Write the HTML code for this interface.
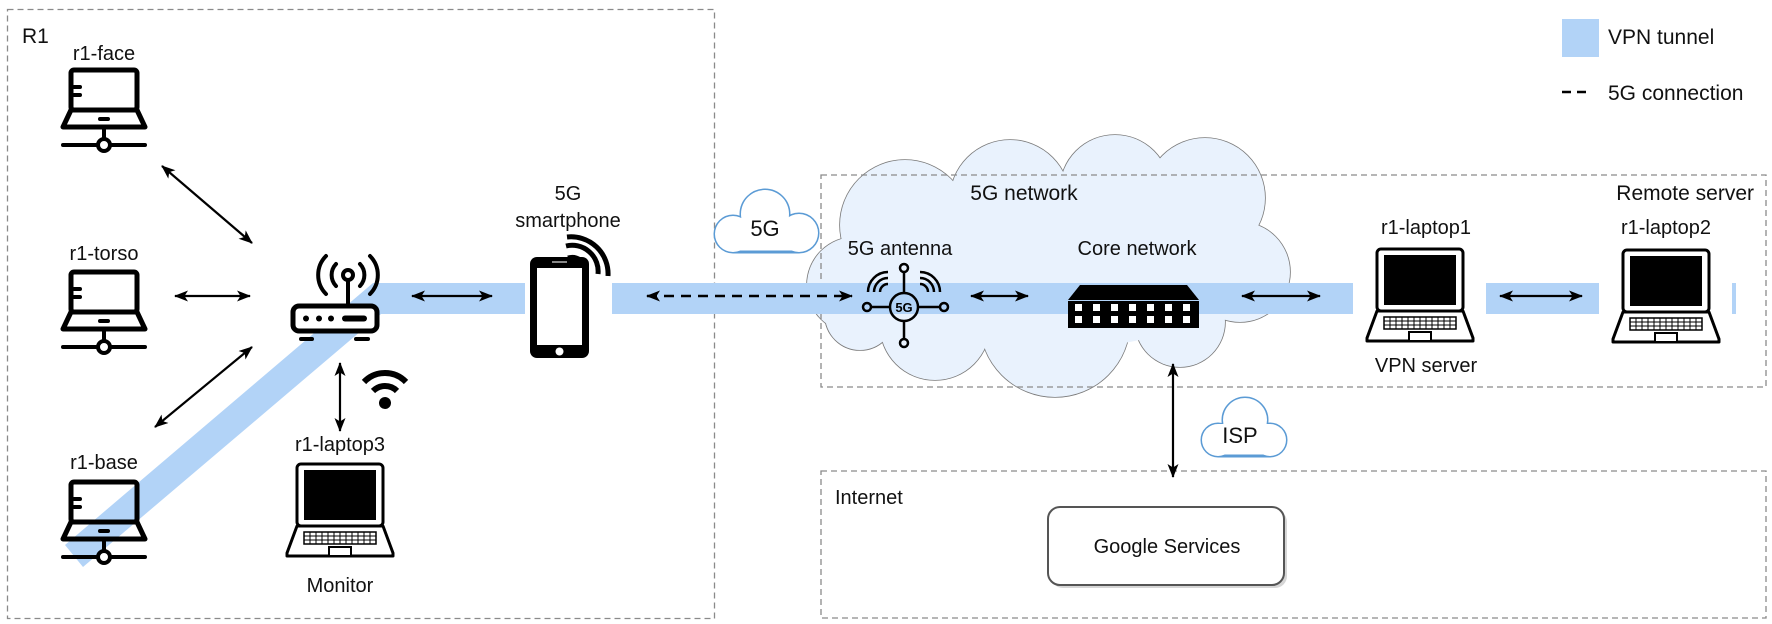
<!DOCTYPE html>
<html><head><meta charset="utf-8"><style>
html,body{margin:0;padding:0;background:#fff;}
svg{display:block;font-family:"Liberation Sans",Arial,sans-serif;}
</style></head><body>
<svg width="1772" height="624" viewBox="0 0 1772 624" xmlns="http://www.w3.org/2000/svg">
<defs>
<marker id="ah" viewBox="0 0 14 11" refX="13" refY="5.5" markerWidth="14" markerHeight="11" markerUnits="userSpaceOnUse" orient="auto-start-reverse"><path d="M0,0 L14,5.5 L0,11 L3.5,5.5 Z" fill="#000"/></marker>
<g id="rlap" fill="none" stroke="#000" stroke-linecap="round" stroke-linejoin="round">
<rect x="-33" y="2" width="66" height="40" rx="3" stroke-width="5"/>
<line x1="-30" y1="19" x2="-24" y2="19" stroke-width="4"/>
<line x1="-30" y1="27" x2="-24" y2="27" stroke-width="4"/>
<path d="M-33,42 L33,42 L41,59 L-41,59 Z" stroke-width="5"/>
<line x1="-4" y1="51" x2="4" y2="51" stroke-width="4"/>
<line x1="0" y1="59" x2="0" y2="72" stroke-width="4"/>
<line x1="-41" y1="77" x2="41" y2="77" stroke-width="4"/>
<circle cx="0" cy="77" r="6" fill="#fff" stroke-width="4"/>
</g>
<g id="blap">
<rect x="-43" y="1" width="86" height="62" rx="4" fill="#fff" stroke="#000" stroke-width="3"/>
<rect x="-36" y="7" width="72" height="50" fill="#000"/>
<path d="M-43,63 L43,63 L53,90 L53,93 L-53,93 L-53,90 Z" fill="#fff" stroke="#000" stroke-width="3" stroke-linejoin="round"/>
<rect x="-36" y="69" width="72" height="12" fill="#fff" stroke="#000" stroke-width="1.5"/>
<path d="M-36,73 H36 M-36,77 H36 M-30,69 V81 M-24,69 V81 M-18,69 V81 M-12,69 V81 M-6,69 V81 M0,69 V81 M6,69 V81 M12,69 V81 M18,69 V81 M24,69 V81 M30,69 V81" stroke="#000" stroke-width="1"/>
<rect x="-11" y="84" width="22" height="9" fill="#fff" stroke="#000" stroke-width="2"/>
</g>
</defs>

<g fill="none" stroke="#8a8a8a" stroke-width="1.3" stroke-dasharray="6 4">
<rect x="7.5" y="9.5" width="707" height="609"/>
<rect x="821" y="471" width="945" height="147"/>
</g>

<g stroke="#7a7a7a" stroke-width="1.6" fill="#e9f2fd">
<circle cx="855" cy="285" r="48"/><circle cx="905" cy="225" r="65"/><circle cx="1010" cy="200" r="60"/>
<circle cx="1115" cy="190" r="55"/><circle cx="1205" cy="198" r="60"/><circle cx="1240" cy="272" r="50"/>
<circle cx="1180" cy="322" r="45"/><circle cx="1055" cy="322" r="75"/><circle cx="935" cy="325" r="55"/>
<circle cx="860" cy="315" r="35"/>
</g>
<g fill="#e9f2fd">
<circle cx="855" cy="285" r="48"/><circle cx="905" cy="225" r="65"/><circle cx="1010" cy="200" r="60"/>
<circle cx="1115" cy="190" r="55"/><circle cx="1205" cy="198" r="60"/><circle cx="1240" cy="272" r="50"/>
<circle cx="1180" cy="322" r="45"/><circle cx="1055" cy="322" r="75"/><circle cx="935" cy="325" r="55"/>
<circle cx="860" cy="315" r="35"/><ellipse cx="1045" cy="265" rx="200" ry="85"/>
</g>
<rect x="821" y="175" width="945" height="212" fill="none" stroke="#8a8a8a" stroke-width="1.3" stroke-dasharray="6 4"/>

<g fill="#b2d3f7">
<polygon points="65,545 373,283 525,283 525,314 381,314 83,567"/>
<rect x="612" y="283" width="741" height="31"/>
<rect x="1486" y="283" width="113" height="31"/>
<rect x="1732" y="283" width="4" height="31"/>
<rect x="1562" y="19" width="37" height="38"/>
</g>

<g stroke="#5b9bd5" stroke-width="3" fill="#fff">
<circle cx="733" cy="234" r="18"/><circle cx="765" cy="214" r="24"/><circle cx="799" cy="233" r="19"/>
<line x1="733" y1="252" x2="799" y2="252"/>
<circle cx="1218" cy="440" r="16"/><circle cx="1245" cy="420" r="22"/><circle cx="1270" cy="440" r="16"/>
<line x1="1218" y1="456" x2="1270" y2="456"/>
</g>
<g fill="#fff">
<circle cx="733" cy="234" r="18"/><circle cx="765" cy="214" r="24"/><circle cx="799" cy="233" r="19"/>
<rect x="733" y="218" width="66" height="32.5"/>
<circle cx="1218" cy="440" r="16"/><circle cx="1245" cy="420" r="22"/><circle cx="1270" cy="440" r="16"/>
<rect x="1218" y="424" width="52" height="30.5"/>
</g>

<rect x="1051" y="510" width="236" height="78" rx="12" fill="#bbb" opacity="0.6"/>
<rect x="1048" y="507" width="236" height="78" rx="12" fill="#fff" stroke="#555" stroke-width="2"/>

<use href="#rlap" transform="translate(104,68)"/>
<use href="#rlap" transform="translate(104,270)"/>
<use href="#rlap" transform="translate(104,480)"/>
<use href="#blap" transform="translate(340,463)"/>
<use href="#blap" transform="translate(1420,248)"/>
<use href="#blap" transform="translate(1666,249)"/>

<g fill="none" stroke="#000" stroke-linecap="round">
<circle cx="348" cy="275" r="5" stroke-width="4"/>
<line x1="348" y1="280" x2="348" y2="305" stroke-width="4"/>
<path d="M336,264 A16,16 0 0 0 336,286 M326,256 A27,27 0 0 0 326,294 M360,264 A16,16 0 0 1 360,286 M370,256 A27,27 0 0 1 370,294" stroke-width="4"/>
<rect x="293" y="306" width="84" height="25" rx="6" fill="#fff" stroke-width="5"/>
<line x1="345" y1="318.5" x2="364" y2="318.5" stroke-width="6"/>
<line x1="301" y1="339" x2="312" y2="339" stroke-width="4"/>
<line x1="356" y1="339" x2="368" y2="339" stroke-width="4"/>
</g>
<g fill="#000"><circle cx="306" cy="318.5" r="3"/><circle cx="319" cy="318.5" r="3"/><circle cx="331" cy="318.5" r="3"/></g>

<g fill="none" stroke="#000" stroke-width="6">
<path d="M373,391 A17,17 0 0 1 397,391"/>
<path d="M364,382 A29,29 0 0 1 406,382"/>
</g>
<circle cx="385" cy="403" r="6" fill="#000"/>

<rect x="530" y="257" width="59" height="101" rx="7" fill="#000"/>
<rect x="537" y="268" width="45" height="77" fill="#fff"/>
<circle cx="559.5" cy="351.5" r="4" fill="#fff"/>
<line x1="552" y1="262" x2="567" y2="262" stroke="#888" stroke-width="2"/>
<g fill="none" stroke="#000" stroke-width="5">
<path d="M568,258 A14,14 0 0 1 586,270"/>
<path d="M566,246 A26,26 0 0 1 598,274"/>
<path d="M567,237 A37,37 0 0 1 608,276"/>
</g>

<g fill="none" stroke="#000" stroke-width="2.5">
<circle cx="904" cy="307" r="14"/>
<line x1="871" y1="307" x2="890" y2="307"/><line x1="918" y1="307" x2="940" y2="307"/>
<line x1="904" y1="272" x2="904" y2="293"/><line x1="904" y1="321" x2="904" y2="339"/>
<circle cx="867" cy="307" r="4"/><circle cx="944" cy="307" r="4"/><circle cx="904" cy="268" r="4"/><circle cx="904" cy="343" r="4"/>
<path d="M880,292 A8,8 0 0 1 888,284 M874,292 A14,14 0 0 1 888,278 M868,292 A20,20 0 0 1 888,272"/>
<path d="M928,292 A8,8 0 0 0 920,284 M934,292 A14,14 0 0 0 920,278 M940,292 A20,20 0 0 0 920,272"/>
</g>
<text x="904" y="312" font-size="13" font-weight="bold" text-anchor="middle">5G</text>

<polygon points="1080,285 1187,285 1199,300 1068,300" fill="#000"/>
<rect x="1068" y="301" width="131" height="27" fill="#000"/>
<g fill="#fff">
<rect x="1075" y="304" width="7" height="7"/><rect x="1093" y="304" width="7" height="7"/><rect x="1111" y="304" width="7" height="7"/><rect x="1129" y="304" width="7" height="7"/><rect x="1147" y="304" width="7" height="7"/><rect x="1165" y="304" width="7" height="7"/><rect x="1183" y="304" width="7" height="7"/>
<rect x="1075" y="316" width="7" height="7"/><rect x="1093" y="316" width="7" height="7"/><rect x="1111" y="316" width="7" height="7"/><rect x="1129" y="316" width="7" height="7"/><rect x="1147" y="316" width="7" height="7"/><rect x="1165" y="316" width="7" height="7"/><rect x="1183" y="316" width="7" height="7"/>
</g>

<g stroke="#000" stroke-width="2.2" marker-start="url(#ah)" marker-end="url(#ah)">
<line x1="162" y1="166" x2="252" y2="243"/>
<line x1="175" y1="296" x2="250" y2="296"/>
<line x1="155" y1="427" x2="252" y2="347"/>
<line x1="340" y1="363" x2="340" y2="431"/>
<line x1="412" y1="296" x2="492" y2="296"/>
<line x1="647" y1="296" x2="852" y2="296" stroke-width="2.5" stroke-dasharray="10 7"/>
<line x1="971" y1="296" x2="1028" y2="296"/>
<line x1="1242" y1="296" x2="1320" y2="296"/>
<line x1="1500" y1="296" x2="1582" y2="296"/>
<line x1="1173" y1="364" x2="1173" y2="477"/>
</g>
<line x1="1562" y1="92" x2="1592" y2="92" stroke="#000" stroke-width="2.5" stroke-dasharray="9 6"/>

<g font-size="20" fill="#111" text-anchor="middle">
<text x="22" y="43" font-size="21" text-anchor="start">R1</text>
<text x="104" y="60">r1-face</text>
<text x="104" y="260">r1-torso</text>
<text x="104" y="469">r1-base</text>
<text x="340" y="451">r1-laptop3</text>
<text x="340" y="592">Monitor</text>
<text x="568" y="200">5G</text>
<text x="568" y="227">smartphone</text>
<text x="765" y="236" font-size="22">5G</text>
<text x="1024" y="200" font-size="21">5G network</text>
<text x="900" y="255">5G antenna</text>
<text x="1137" y="255">Core network</text>
<text x="1426" y="234">r1-laptop1</text>
<text x="1666" y="234">r1-laptop2</text>
<text x="1426" y="372">VPN server</text>
<text x="1754" y="200" font-size="21" text-anchor="end">Remote server</text>
<text x="1240" y="443" font-size="22">ISP</text>
<text x="835" y="504" text-anchor="start">Internet</text>
<text x="1167" y="553">Google Services</text>
<text x="1608" y="44" font-size="21" text-anchor="start">VPN tunnel</text>
<text x="1608" y="100" font-size="21" text-anchor="start">5G connection</text>
</g>
</svg>
</body></html>
